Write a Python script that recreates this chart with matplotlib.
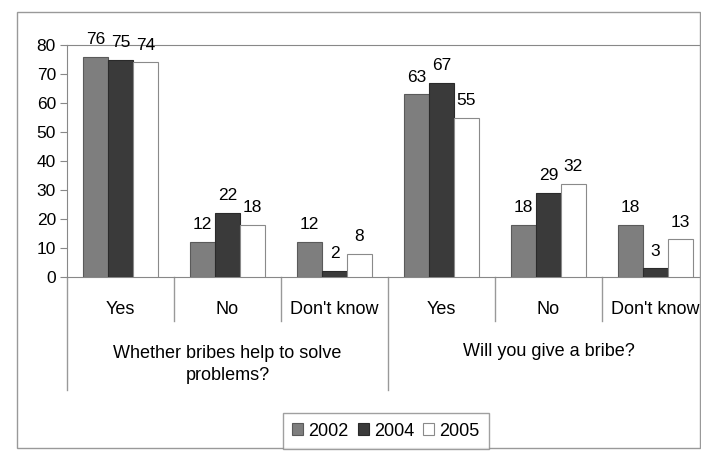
import numpy as np
import matplotlib.pyplot as plt
from matplotlib.patches import Rectangle
from matplotlib import font_manager

# data
categories = ["Yes", "No", "Don't know", "Yes", "No", "Don't know"]
groups = ["Whether bribes help to solve\nproblems?", "Will you give a bribe?"]
years = ["2002", "2004", "2005"]
v2002 = [76, 12, 12, 63, 18, 18]
v2004 = [75, 22, 2, 67, 29, 3]
v2005 = [74, 18, 8, 55, 32, 13]

names = [f.name for f in font_manager.fontManager.ttflist]
fam = "Liberation Sans Narrow" if "Liberation Sans Narrow" in names else "Liberation Sans"
plt.rcParams['font.family'] = [fam, 'DejaVu Sans']

fig = plt.figure(figsize=(7.01, 4.51), dpi=100)
W, H = 701, 451
# axes in pixel terms: left 67, bottom y=277, top y=45, category width 107
ax = fig.add_axes([67/W, (H-277)/H, 642/W, 232/H])

x = np.arange(len(categories))
bw = 0.233
colors = ['#7e7e7e', '#3a3a3a', 'white']
edges = ['#5a5a5a', '#2a2a2a', '#8a8a8a']
series = [v2002, v2004, v2005]
for i, vals in enumerate(series):
    bars = ax.bar(x + (i-1)*bw, vals, bw, color=colors[i], edgecolor=edges[i],
                  linewidth=0.8, label=years[i], zorder=3)
    for b, v in zip(bars, vals):
        ax.annotate(str(v), (b.get_x()+b.get_width()/2, v), xytext=(0, 7),
                    textcoords='offset points', ha='center', va='bottom', fontsize=12.5)

ax.set_xlim(-0.5, 5.5)
ax.set_ylim(0, 80)
ax.set_yticks(range(0, 81, 10))
ax.set_xticks([])
ax.tick_params(axis='y', length=5, color='#888888', labelsize=12.5, pad=3)
for s in ['left', 'top', 'bottom']:
    ax.spines[s].set_color('#888888')
ax.spines['right'].set_visible(False)

# category axis
tr = ax.get_xaxis_transform()
for i, c in enumerate(categories):
    ax.text(i, -0.142, c, transform=tr, ha='center', va='center', fontsize=13)
for b in np.arange(-0.5, 6, 1.0):
    low = -0.487 if b in (-0.5, 2.5) else -0.19
    ax.plot([b, b], [0, low], transform=tr, color='#999999', lw=1, clip_on=False)
ax.text(1.0, -0.378, groups[0], transform=tr, ha='center', va='center',
        fontsize=13, linespacing=1.4)
ax.text(4.0, -0.323, groups[1], transform=tr, ha='center', va='center', fontsize=13)

# outer chart border
fig.patches.append(Rectangle((17/W, 3/H), 683/W, 436/H, transform=fig.transFigure,
                             fill=False, edgecolor='#999999', lw=1))

leg = fig.legend(loc='center', bbox_to_anchor=(386/W, (H-431)/H), ncol=3, fontsize=13,
                 handlelength=0.6, handleheight=0.6, handletextpad=0.3,
                 columnspacing=0.5, borderpad=0.5, fancybox=False, frameon=True)
leg.get_frame().set_edgecolor('#888888')
leg.get_frame().set_linewidth(1)

fig.savefig('out.png', dpi=100, facecolor='white')
